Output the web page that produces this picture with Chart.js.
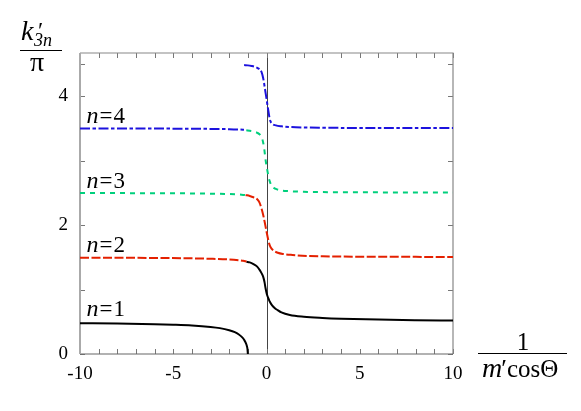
<!DOCTYPE html>
<html>
<head>
<meta charset="utf-8">
<script src="https://cdn.jsdelivr.net/npm/chart.js@4.4.0/dist/chart.umd.min.js"></script>
<style>
  html, body { margin: 0; padding: 0; background: #fff; }
  #wrap { width: 581px; height: 411px; font-family: "Liberation Serif"; }
</style>
</head>
<body>
<div id="wrap"><canvas id="chart" width="581" height="411"></canvas></div>
<script>
// x = 1/(m' cos Θ), y = k'_3n / π
const xTickLabels = [-10, -5, 0, 5, 10];
const yTickLabels = [0, 2, 4];
const xMinorTicks = [-10, -9, -8, -7, -6, -5, -4, -3, -2, -1, 0, 1, 2, 3, 4, 5, 6, 7, 8, 9, 10];
const yMinorTicks = [0, 1, 2, 3, 4, 4.5];

// branches left of the pole at x = -1
const n1LeftX = [-10, -8, -6, -5, -4, -3, -2.5, -2, -1.7, -1.5, -1.3, -1.2, -1.1, -1.05, -1.02, -1.0];
const n1LeftY = [0.478, 0.473, 0.463, 0.455, 0.443, 0.420, 0.401, 0.368, 0.338, 0.306, 0.258, 0.220, 0.165, 0.120, 0.077, 0.0];
const upperLeftX = [-10, -6, -4, -3, -2, -1.5, -1.25, -1.07];
const n2LeftY = [1.493, 1.489, 1.483, 1.477, 1.466, 1.454, 1.445, 1.433];
const n3LeftY = [2.496, 2.493, 2.490, 2.486, 2.480, 2.473, 2.467, 2.461];
const n4LeftY = [3.497, 3.495, 3.493, 3.490, 3.486, 3.481, 3.477, 3.472];

// branches right of the pole
const n1RightX = [-1.08, -0.9, -0.7, -0.5, -0.36, -0.26, -0.18, -0.11, -0.05, 0, 0.05, 0.12, 0.18, 0.3, 0.45, 0.6, 0.8, 1.25, 2, 3, 4, 6, 8, 10];
const n1RightY = [1.43, 1.42, 1.395, 1.355, 1.30, 1.25, 1.20, 1.12, 1.02, 0.95, 0.90, 0.85, 0.81, 0.755, 0.71, 0.68, 0.645, 0.605, 0.578, 0.56, 0.548, 0.533, 0.524, 0.518];
const n2RightX = [-1.12, -0.9, -0.7, -0.5, -0.38, -0.27, -0.18, -0.1, -0.04, 0, 0.05, 0.1, 0.18, 0.28, 0.4, 0.6, 0.9, 1.4, 2.2, 3, 4, 6, 8, 10];
const n2RightY = [2.465, 2.45, 2.43, 2.40, 2.35, 2.26, 2.16, 2.05, 1.96, 1.90, 1.83, 1.76, 1.68, 1.63, 1.60, 1.57, 1.55, 1.535, 1.52, 1.515, 1.511, 1.508, 1.506, 1.505];
const n3RightX = [-1.08, -0.9, -0.7, -0.5, -0.35, -0.25, -0.18, -0.12, -0.06, 0, 0.05, 0.1, 0.16, 0.25, 0.36, 0.5, 0.8, 1.2, 2, 3, 4, 6, 8, 10];
const n3RightY = [3.47, 3.46, 3.45, 3.43, 3.40, 3.35, 3.28, 3.18, 3.03, 2.92, 2.84, 2.76, 2.69, 2.62, 2.58, 2.56, 2.535, 2.525, 2.515, 2.51, 2.508, 2.506, 2.505, 2.504];
const n4RightX = [-1.2, -1.0, -0.8, -0.6, -0.45, -0.32, -0.24, -0.18, -0.12, -0.06, 0, 0.05, 0.1, 0.15, 0.21, 0.3, 0.5, 0.8, 1.2, 2, 3, 4, 6, 8, 10];
const n4RightY = [4.48, 4.475, 4.465, 4.45, 4.43, 4.40, 4.35, 4.28, 4.18, 4.07, 3.96, 3.86, 3.77, 3.68, 3.61, 3.57, 3.545, 3.53, 3.52, 3.512, 3.508, 3.506, 3.504, 3.503, 3.503];

const seriesNames = ['n=1', 'n=2', 'n=3', 'n=4'];
const seriesColors = ['#000000', '#e42000', '#00cf7c', '#1c12de'];
const seriesDash = [[], [9, 2.5], [5, 5], [10, 2.5, 3.5, 2.5]];

function toPoints(xs, ys) {
    return xs.map((x, i) => ({ x: x, y: ys[i] }));
}

function branch(n, xs, ys) {
    return {
        label: seriesNames[n],
        data: toPoints(xs, ys),
        showLine: true,
        borderColor: seriesColors[n],
        borderWidth: 2,
        borderDash: seriesDash[n],
        pointRadius: 0,
        cubicInterpolationMode: 'monotone',
        fill: false
    };
}

const datasets = [
    branch(0, n1LeftX, n1LeftY),
    branch(1, upperLeftX, n2LeftY),
    branch(2, upperLeftX, n3LeftY),
    branch(3, upperLeftX, n4LeftY),
    branch(0, n1RightX, n1RightY),
    branch(1, n2RightX, n2RightY),
    branch(2, n3RightX, n3RightY),
    branch(3, n4RightX, n4RightY)
];

const serif = '"Liberation Serif"';

// frame, inward ticks, the x = 0 line, curve labels and axis titles
const framePlugin = {
    id: 'frame',
    beforeDatasetsDraw(chart) {
        const ctx = chart.ctx;
        const a = chart.chartArea;
        const xs = chart.scales.x;
        const ys = chart.scales.y;
        ctx.save();
        // vertical line at x = 0
        ctx.strokeStyle = '#444';
        ctx.lineWidth = 1;
        ctx.beginPath();
        const x0 = Math.round(xs.getPixelForValue(0)) + 0.5;
        ctx.moveTo(x0, a.top);
        ctx.lineTo(x0, a.bottom);
        ctx.stroke();

        // ticks
        ctx.strokeStyle = '#777';
        ctx.lineWidth = 1;
        ctx.beginPath();
        xMinorTicks.forEach(v => {
            const px = Math.round(xs.getPixelForValue(v)) + 0.5;
            ctx.moveTo(px, a.bottom);
            ctx.lineTo(px, a.bottom - 5);
            ctx.moveTo(px, a.top);
            ctx.lineTo(px, a.top + 5);
        });
        yMinorTicks.forEach(v => {
            const py = Math.round(ys.getPixelForValue(v)) + 0.5;
            ctx.moveTo(a.left, py);
            ctx.lineTo(a.left + 5, py);
            ctx.moveTo(a.right, py);
            ctx.lineTo(a.right - 5, py);
        });
        ctx.stroke();

        // frame
        ctx.strokeStyle = '#888';
        ctx.lineWidth = 1.2;
        ctx.beginPath();
        ctx.moveTo(a.left, a.top);
        ctx.lineTo(a.right, a.top);
        ctx.lineTo(a.right, a.bottom);
        ctx.stroke();
        ctx.strokeStyle = '#666';
        ctx.beginPath();
        ctx.moveTo(a.left, a.bottom);
        ctx.lineTo(a.right, a.bottom);
        ctx.stroke();
        ctx.strokeStyle = '#aaa';
        ctx.lineWidth = 2;
        ctx.beginPath();
        ctx.moveTo(a.left, a.top);
        ctx.lineTo(a.left, a.bottom);
        ctx.stroke();
        ctx.restore();
    },
    afterDatasetsDraw(chart) {
        const ctx = chart.ctx;
        const xs = chart.scales.x;
        const ys = chart.scales.y;
        ctx.save();
        ctx.fillStyle = '#000';
        ctx.textBaseline = 'alphabetic';
        ctx.textAlign = 'left';

        // curve labels
        const labelY = [0.59, 1.58, 2.57, 3.58];
        seriesNames.forEach((name, i) => {
            let px = xs.getPixelForValue(-9.65);
            const py = ys.getPixelForValue(labelY[i]);
            ctx.font = 'italic 24px ' + serif;
            ctx.fillText('n', px, py);
            px += ctx.measureText('n').width + 1;
            ctx.font = '23px ' + serif;
            ctx.fillText('=', px, py);
            px += ctx.measureText('=').width + 1;
            ctx.fillText(name.slice(2), px, py);
        });

        // y title: k'_{3n} / π
        ctx.font = 'italic 28px ' + serif;
        ctx.fillText('k', 21, 40);
        ctx.font = '24px ' + serif;
        ctx.fillText('\u2032', 38, 38);
        ctx.font = 'italic 18px ' + serif;
        ctx.fillText('3n', 34, 46);
        ctx.strokeStyle = '#000';
        ctx.lineWidth = 1;
        ctx.beginPath();
        ctx.moveTo(20, 50.5);
        ctx.lineTo(62, 50.5);
        ctx.stroke();
        ctx.font = '28px ' + serif;
        ctx.textAlign = 'center';
        ctx.fillText('\u03c0', 37, 71);

        // x title: 1 / (m' cos Θ)
        ctx.font = '25px ' + serif;
        ctx.fillText('1', 523, 350);
        ctx.beginPath();
        ctx.moveTo(478, 353.5);
        ctx.lineTo(567, 353.5);
        ctx.stroke();
        ctx.textAlign = 'left';
        let tx = 482;
        ctx.font = 'italic 28px ' + serif;
        ctx.fillText('m', tx, 377);
        tx += ctx.measureText('m').width;
        ctx.font = '26px ' + serif;
        ctx.fillText('\u2032', tx - 1, 377);
        tx += ctx.measureText('\u2032').width - 1;
        ctx.font = '25px ' + serif;
        ctx.fillText('cos\u0398', tx, 377);
        ctx.restore();
    }
};

const tickFont = { family: serif, size: 19 };

function drawChart() {
    new Chart(document.getElementById('chart'), {
        type: 'scatter',
        data: { datasets: datasets },
        options: {
            responsive: false,
            animation: false,
            layout: { padding: { left: 0, right: 128, top: 53, bottom: 0 } },
            plugins: {
                legend: { display: false },
                tooltip: { enabled: false }
            },
            scales: {
                x: {
                    type: 'linear',
                    min: -10,
                    max: 10,
                    grid: { display: false, drawTicks: false },
                    border: { display: false },
                    afterBuildTicks: s => { s.ticks = xTickLabels.map(v => ({ value: v })); },
                    afterFit: s => { s.height = 57; },
                    ticks: {
                        font: tickFont,
                        color: '#000',
                        padding: 9,
                        maxRotation: 0,
                        autoSkip: false,
                        callback: v => String(v)
                    }
                },
                y: {
                    type: 'linear',
                    min: 0,
                    max: 4.667,
                    grid: { display: false, drawTicks: false },
                    border: { display: false },
                    afterBuildTicks: s => { s.ticks = yTickLabels.map(v => ({ value: v })); },
                    afterFit: s => { s.width = 80; },
                    ticks: {
                        font: tickFont,
                        color: '#000',
                        padding: 12,
                        autoSkip: false,
                        callback: v => String(v)
                    }
                }
            }
        },
        plugins: [framePlugin]
    });
}

Promise.all([
    document.fonts.load('19px "Liberation Serif"'),
    document.fonts.load('italic 19px "Liberation Serif"')
]).then(drawChart, drawChart);
</script>
</body>
</html>
